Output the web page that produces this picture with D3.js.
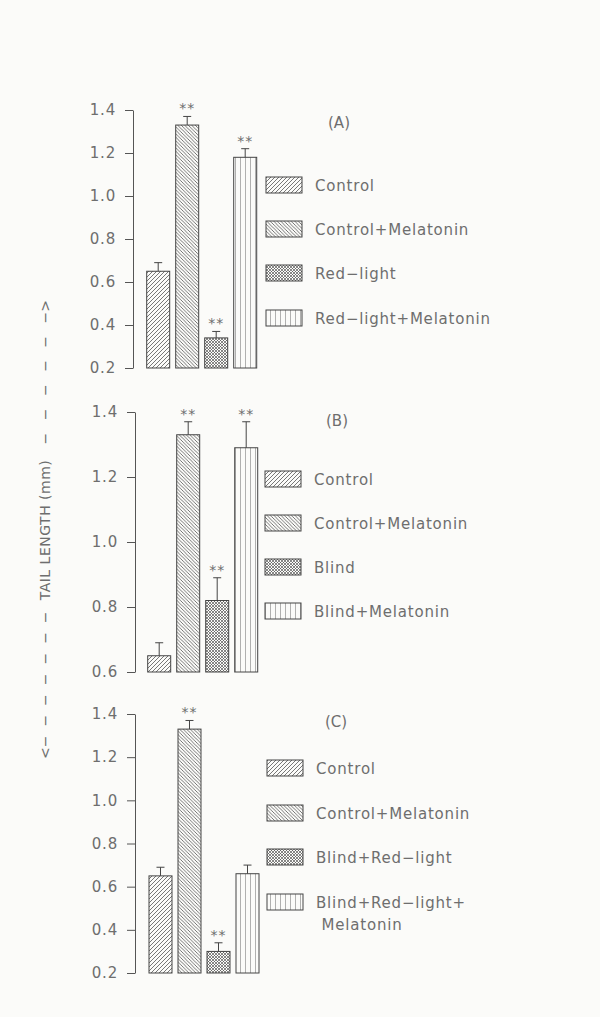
<!DOCTYPE html>
<html>
<head>
<meta charset="utf-8">
<script src="https://cdn.jsdelivr.net/npm/d3@7"></script>
<style>
  body { margin: 0; background: #fbfbf9; }
  svg { display: block; }
  text { font-family: "DejaVu Sans", sans-serif; fill: #6e6e6e; }
</style>
</head>
<body>
<div id="chart"></div>
<script>
// values
const patterns = ["fwd", "back", "cross", "vert"];

const labelsA = ["Control", "Control+Melatonin", "Red\u2212light", "Red\u2212light+Melatonin"];
const meansA = [0.65, 1.33, 0.34, 1.18];
const errA = [0.04, 0.04, 0.03, 0.04];
const starsA = [false, true, true, true];

const labelsB = ["Control", "Control+Melatonin", "Blind", "Blind+Melatonin"];
const meansB = [0.65, 1.33, 0.82, 1.29];
const errB = [0.04, 0.04, 0.07, 0.08];
const starsB = [false, true, true, true];

const labelsC = ["Control", "Control+Melatonin", "Blind+Red\u2212light", "Blind+Red\u2212light+\n Melatonin"];
const meansC = [0.65, 1.33, 0.30, 0.66];
const errC = [0.04, 0.04, 0.04, 0.04];
const starsC = [false, true, true, false];

const ticksAC = [0.2, 0.4, 0.6, 0.8, 1.0, 1.2, 1.4];
const ticksB = [0.6, 0.8, 1.0, 1.2, 1.4];

const width = 600, height = 1017;

const svg = d3.select("#chart").append("svg")
  .attr("width", width)
  .attr("height", height);

svg.append("rect").attr("width", width).attr("height", height).attr("fill", "#fbfbf9");

// hatch fills
const defs = svg.append("defs");
function hatch(id, size, d, sw) {
  defs.append("pattern")
    .attr("id", id)
    .attr("patternUnits", "userSpaceOnUse")
    .attr("width", size).attr("height", size)
    .append("path")
      .attr("d", d)
      .attr("stroke", "#555")
      .attr("stroke-width", sw)
      .attr("fill", "none");
}
hatch("fwd", 4, "M-1,1 l2,-2 M0,4 l4,-4 M3,5 l2,-2", 0.8);
hatch("back", 3.5, "M-1,2.5 l2,2 M0,0 l3.5,3.5 M2.5,-1 l2,2", 0.8);
hatch("cross", 3, "M0,0 l3,3 M3,0 l-3,3", 0.7);
hatch("vert", 5, "M0,0 V5", 0.9);

const panels = [
  { name: "(A)", labels: labelsA, means: meansA, err: errA, stars: starsA, ticks: ticksAC,
    domain: [0.2, 1.4], axisX: 133, top: 110, bottom: 368, barX: [146.7, 256.7],
    tagX: 339, tagY: 128, legX: 266, legY: [185, 229, 273, 318] },
  { name: "(B)", labels: labelsB, means: meansB, err: errB, stars: starsB, ticks: ticksB,
    domain: [0.6, 1.4], axisX: 135, top: 412, bottom: 672, barX: [147.7, 257.7],
    tagX: 337, tagY: 426, legX: 265, legY: [479, 523, 567, 611] },
  { name: "(C)", labels: labelsC, means: meansC, err: errC, stars: starsC, ticks: ticksAC,
    domain: [0.2, 1.4], axisX: 135, top: 714, bottom: 973, barX: [149, 259],
    tagX: 336, tagY: 727, legX: 267, legY: [768, 813, 857, 902] }
];

panels.forEach(p => {
  const g = svg.append("g");
  const y = d3.scaleLinear().domain(p.domain).range([p.bottom, p.top]);
  const x = d3.scaleBand().domain(d3.range(4)).range(p.barX).paddingInner(0.207).paddingOuter(0);

  const axis = d3.axisLeft(y)
    .tickValues(p.ticks)
    .tickFormat(d3.format(".1f"))
    .tickSize(8)
    .tickSizeOuter(0)
    .tickPadding(9);

  const ax = g.append("g")
    .attr("transform", `translate(${p.axisX},0)`)
    .call(axis);
  ax.select(".domain").attr("stroke", "#555");
  ax.selectAll(".tick line").attr("stroke", "#555");
  ax.selectAll(".tick text")
    .attr("font-family", "DejaVu Sans")
    .attr("font-size", 15)
    .attr("fill", "#6e6e6e")
    .attr("letter-spacing", 0.8);

  const rows = d3.range(4).map(i => ({ i, v: p.means[i], e: p.err[i], s: p.stars[i] }));

  g.selectAll(".bar").data(rows).enter().append("rect")
    .attr("x", d => x(d.i))
    .attr("y", d => y(d.v))
    .attr("width", x.bandwidth())
    .attr("height", d => y(p.domain[0]) - y(d.v))
    .attr("fill", d => `url(#${patterns[d.i]})`)
    .attr("stroke", "#444")
    .attr("stroke-width", 1);

  // error bars (upper only)
  g.selectAll(".err").data(rows).enter().append("path")
    .attr("d", d => {
      const cx = x(d.i) + x.bandwidth() / 2;
      return `M${cx},${y(d.v)} V${y(d.v + d.e)} M${cx - 4},${y(d.v + d.e)} H${cx + 4}`;
    })
    .attr("stroke", "#444")
    .attr("fill", "none");

  g.selectAll(".star").data(rows.filter(d => d.s)).enter().append("text")
    .attr("x", d => x(d.i) + x.bandwidth() / 2)
    .attr("y", d => y(d.v + d.e) - 3)
    .attr("text-anchor", "middle")
    .attr("font-size", 14)
    .attr("letter-spacing", 1)
    .text("**");

  g.append("text")
    .attr("x", p.tagX).attr("y", p.tagY)
    .attr("text-anchor", "middle")
    .attr("font-size", 15)
    .text(p.name);

  // legend
  p.labels.forEach((lab, i) => {
    const cy = p.legY[i];
    g.append("rect")
      .attr("x", p.legX).attr("y", cy - 8)
      .attr("width", 36).attr("height", 16)
      .attr("fill", `url(#${patterns[i]})`)
      .attr("stroke", "#444");
    const t = g.append("text")
      .attr("x", p.legX + 49).attr("y", cy + 5.5)
      .attr("font-size", 15)
      .attr("letter-spacing", 0.8);
    lab.split("\n").forEach((line, k) => {
      t.append("tspan")
        .attr("x", p.legX + 49)
        .attr("dy", k === 0 ? 0 : 22)
        .attr("xml:space", "preserve")
        .text(line);
    });
  });
});

// y-axis title with dashed arrows
const yl = svg.append("g").attr("transform", "translate(50,0)");
yl.append("text")
  .attr("transform", "translate(0,530) rotate(-90)")
  .attr("text-anchor", "middle")
  .attr("font-size", 14)
  .attr("letter-spacing", 0.5)
  .text("TAIL LENGTH (mm)");
yl.append("text")
  .attr("transform", "translate(0,759) rotate(-90)")
  .attr("text-anchor", "start")
  .attr("font-size", 14)
  .attr("word-spacing", 4.5)
  .text("<\u2212 \u2212 \u2212 \u2212 \u2212 \u2212 \u2212");
yl.append("text")
  .attr("transform", "translate(0,300) rotate(-90)")
  .attr("text-anchor", "end")
  .attr("font-size", 14)
  .attr("word-spacing", 8)
  .text("\u2212 \u2212 \u2212 \u2212 \u2212 \u2212>");
</script>
</body>
</html>
